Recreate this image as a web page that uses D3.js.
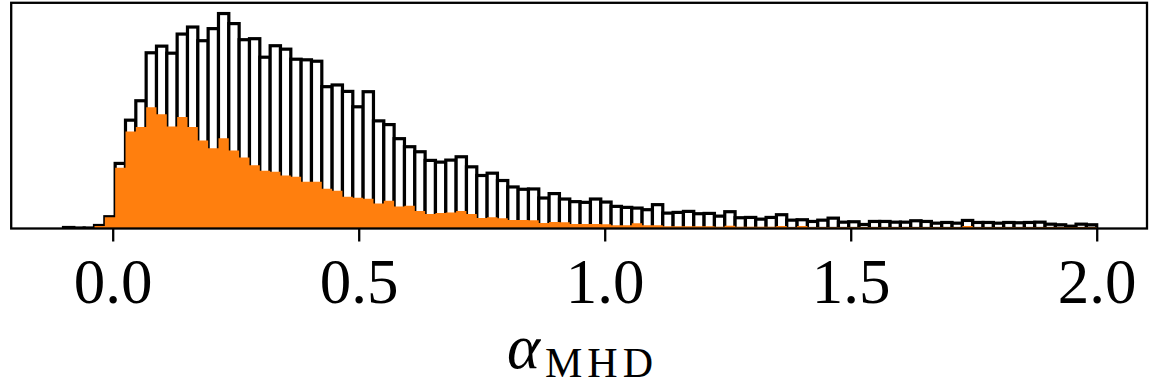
<!DOCTYPE html>
<html>
<head>
<meta charset="utf-8">
<script src="https://cdn.jsdelivr.net/npm/d3@7"></script>
<style>
  html, body { margin: 0; padding: 0; background: #fff; }
  svg { display: block; }
</style>
</head>
<body>
<svg id="chart" width="1149" height="390"></svg>
<script>
// ---- Data ----
const binStart = -0.1;
const binWidth = 0.021;
const nBins = 100;

// total histogram (black outlined bars), arbitrary units
const totalCounts = [
  1, 0.5, 0.5, 3, 11.7, 64.7, 107.7, 127, 174.7, 181.3,
  174.3, 193.3, 200.3, 186.7, 198.7, 213.7, 203.7, 187.7, 188.7, 170.3,
  181.7, 178.3, 168.3, 167.7, 166.3, 141, 142.7, 136.3, 121, 136,
  107, 103.3, 89.3, 81.3, 76.3, 67.7, 66, 68, 71.3, 61.3,
  52.7, 55, 47.7, 41.3, 39, 39.3, 30.3, 34.7, 29.3, 26.7,
  26, 29.3, 26.3, 22, 21, 20.3, 18.7, 23.7, 15.3, 16,
  17, 14.7, 15, 12.3, 16.7, 10.7, 11, 9.3, 11, 13.7,
  8.3, 8.7, 7, 8.3, 10.3, 6.3, 6.7, 4, 7, 7,
  6.3, 6.3, 7.7, 7, 5.3, 6, 5.3, 8, 6, 6,
  5.3, 6, 5.7, 6, 6.3, 4.3, 3.7, 2.3, 4.3, 3.7
];

// subset histogram (orange filled steps), same bins
const subsetCounts = [
  0, 0, 0, 2.5, 11.2, 60.5, 96.5, 100.8, 120.5, 113.5,
  101.5, 110.8, 100.8, 87.5, 79.8, 89.8, 77.5, 70.5, 62.8, 57.5,
  56.5, 52.8, 51.5, 46.5, 46.5, 39.5, 37.5, 31.5, 30.5, 29.5,
  24.8, 27.5, 21.8, 22.5, 17.5, 14.5, 15.5, 15.8, 17.5, 14.5,
  10.5, 11.2, 10.2, 8.5, 8.5, 8.2, 5.5, 6.5, 6.2, 4.5,
  4.5, 4.5, 4.2, 3.2, 3.2, 5.2, 3.2, 3.2, 2.2, 2.2,
  2.2, 2.2, 2.2, 1.8, 2.8, 1.8, 1.8, 1.8, 1.8, 2.5,
  1.2, 2.5, 1.2, 1.2, 1.2, 1.2, 1.2, 1.2, 1.2, 1.2,
  1.2, 1.2, 1.2, 1.2, 1.2, 1.2, 1.2, 2.5, 1.2, 1.2,
  1.2, 1.2, 1.2, 1.2, 1.2, 1.2, 1.2, 1.2, 1.2, 1.2
];

const tickValues = [0.0, 0.5, 1.0, 1.5, 2.0];
const tickLabels = ["0.0", "0.5", "1.0", "1.5", "2.0"];
const xLabelMain = "α";
const xLabelSub = "MHD";

// ---- Layout ----
const plot = { left: 11.2, right: 1147, top: 2.8, bottom: 228.5 };
const svg = d3.select("#chart");

const x = d3.scaleLinear().domain([-0.2063, 2.1022]).range([plot.left, plot.right]);
const yMax = d3.max(totalCounts) * 1.05;
const y = d3.scaleLinear().domain([0, yMax]).range([plot.bottom, plot.top]);

const edges = d3.range(nBins + 1).map(i => binStart + i * binWidth);
const bins = totalCounts.map((v, i) => ({ x0: edges[i], x1: edges[i + 1], v }));

// clip to axes
svg.append("defs").append("clipPath").attr("id", "clip")
  .append("rect")
  .attr("x", plot.left).attr("y", plot.top)
  .attr("width", plot.right - plot.left).attr("height", plot.bottom - plot.top);

const g = svg.append("g").attr("clip-path", "url(#clip)");

// black outlined bars
g.selectAll("rect.bar").data(bins).join("rect")
  .attr("class", "bar")
  .attr("x", d => x(d.x0))
  .attr("width", d => x(d.x1) - x(d.x0))
  .attr("y", d => y(d.v))
  .attr("height", d => y(0) - y(d.v))
  .attr("fill", "#ffffff")
  .attr("stroke", "#000")
  .attr("stroke-width", 3.2);

// orange stepfilled histogram
const stepPts = subsetCounts.map((v, i) => ({ x: edges[i], v }));
stepPts.push({ x: edges[nBins], v: subsetCounts[nBins - 1] });
const area = d3.area()
  .x(d => x(d.x))
  .y0(y(0))
  .y1(d => y(d.v))
  .curve(d3.curveStepAfter);
g.append("path")
  .datum(stepPts)
  .attr("d", area)
  .attr("fill", "#ff7f0e")
  .attr("stroke", "none");

// x axis ticks & labels
const xAxis = d3.axisBottom(x)
  .tickValues(tickValues)
  .tickFormat((d, i) => tickLabels[i])
  .tickSize(13)
  .tickPadding(18);
const ax = svg.append("g")
  .attr("transform", `translate(0,${plot.bottom})`)
  .call(xAxis);
ax.select(".domain").remove();
ax.selectAll(".tick line").attr("stroke", "#000").attr("stroke-width", 2.3);
ax.selectAll(".tick text")
  .attr("font-family", "'Liberation Serif', 'Times New Roman', serif")
  .attr("font-size", 63)
  .attr("fill", "#000")
  .attr("dy", null)
  .attr("y", 303 - plot.bottom);

// spines (frame)
svg.append("rect")
  .attr("x", plot.left).attr("y", plot.top)
  .attr("width", plot.right - plot.left).attr("height", plot.bottom - plot.top)
  .attr("fill", "none").attr("stroke", "#000").attr("stroke-width", 2.3);

// x label: alpha_MHD
const lab = svg.append("g").attr("font-family", "'Liberation Serif', 'Times New Roman', serif").attr("fill", "#000");
lab.append("text")
  .attr("x", 507).attr("y", 368)
  .attr("font-size", 63).attr("font-style", "italic")
  .text(xLabelMain);
lab.append("text")
  .attr("x", 545).attr("y", 377)
  .attr("font-size", 42)
  .attr("textLength", 108).attr("lengthAdjust", "spacing")
  .text(xLabelSub);
</script>
</body>
</html>
